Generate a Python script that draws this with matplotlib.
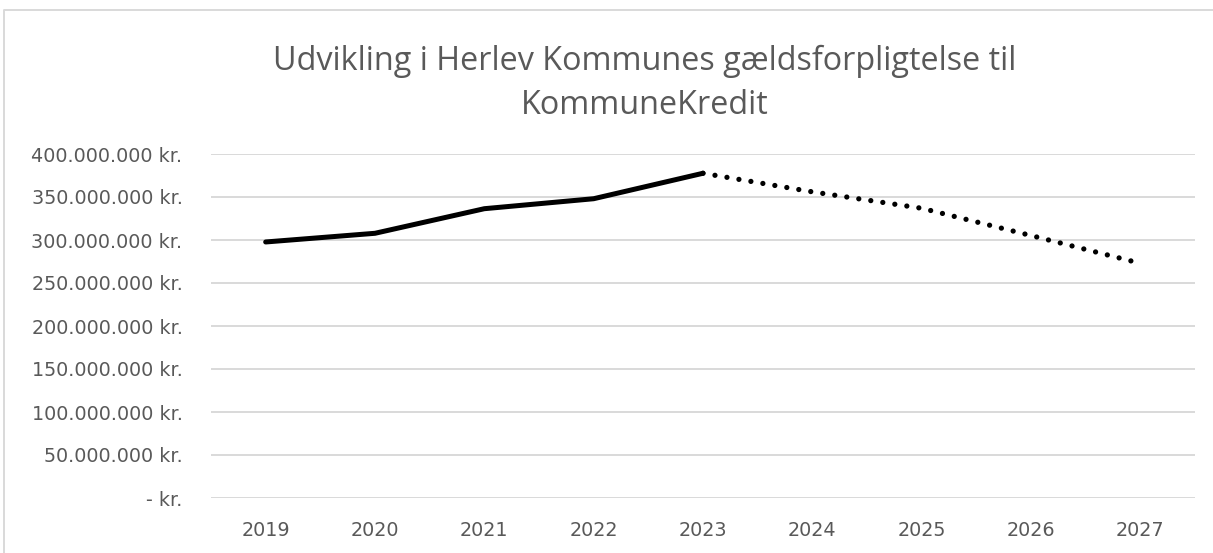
import matplotlib
matplotlib.use("Agg")
import matplotlib.pyplot as plt
from matplotlib import font_manager
from matplotlib.lines import Line2D
import numpy as np

# ---- data ----
years = ["2019", "2020", "2021", "2022", "2023", "2024", "2025", "2026", "2027"]
actual_values = [297.7e6, 307.8e6, 336.4e6, 348.0e6, 377.6e6]            # 2019-2023
forecast_values = [377.6e6, 356.0e6, 336.9e6, 305.2e6, 272.9e6]          # 2023-2027
yticks = [0, 50e6, 100e6, 150e6, 200e6, 250e6, 300e6, 350e6, 400e6]
title_lines = ["Udvikling i Herlev Kommunes gældsforpligtelse til", "KommuneKredit"]

W, H = 1213, 553
DPI = 100
fig = plt.figure(figsize=(W / DPI, H / DPI), dpi=DPI)
fig.patch.set_facecolor("white")

def fy(p):
    return 1 - p / H

def fx(p):
    return p / W

ax = fig.add_axes([fx(211), fy(498), fx(1195) - fx(211), fy(154) - fy(498)])

x_act = np.arange(len(actual_values))
x_fc = np.arange(len(actual_values) - 1, len(actual_values) - 1 + len(forecast_values))

ax.plot(x_fc, forecast_values, color="black", lw=3.8,
        linestyle=(0, (0.001, 2.3)), dash_capstyle="round", solid_capstyle="round", zorder=3)
ax.plot(x_act, actual_values, color="black", lw=3.6,
        solid_capstyle="round", solid_joinstyle="round", zorder=4)

ax.set_xlim(-0.5, len(years) - 0.5)
ax.set_ylim(0, 400e6)
ax.set_yticks(yticks)

def fmt(v):
    if v == 0:
        return "- kr."
    return f"{int(v):,}".replace(",", ".") + " kr."

ax.set_yticklabels([fmt(v) for v in yticks])
ax.set_xticks(range(len(years)))
ax.set_xticklabels(years)

tick_color = "#595959"
ax.tick_params(axis="y", length=0, pad=20.5, labelsize=13.8, labelcolor=tick_color)
ax.tick_params(axis="x", length=0, pad=16.5, labelsize=13.8, labelcolor=tick_color)
for s in ax.spines.values():
    s.set_visible(False)
ax.yaxis.grid(True, color="#d9d9d9", lw=1.4)
ax.set_axisbelow(True)

# chart frame (cropped at right and bottom)
fig.add_artist(Line2D([fx(3.8), fx(3.8), 1.0], [0.0, fy(9.8), fy(9.8)],
                      transform=fig.transFigure, color="#d9d9d9", lw=1.4))

# title font choice
title_family = "DejaVu Sans"
for cand in ["Liberation Sans Narrow", "Open Sans", "Lato"]:
    try:
        font_manager.findfont(font_manager.FontProperties(family=cand), fallback_to_default=False)
        title_family = cand
        break
    except Exception:
        pass

t1 = fig.text(fx(645), fy(70), title_lines[0], ha="center", va="baseline",
              color=tick_color, fontsize=20, family=title_family)
t2 = fig.text(fx(645), fy(114), title_lines[1], ha="center", va="baseline",
              color=tick_color, fontsize=20, family=title_family)
fig.canvas.draw()
r = fig.canvas.get_renderer()
w = t1.get_window_extent(r).width
fs = 20 * 745 / w
t1.set_fontsize(fs)
t2.set_fontsize(fs)

fig.savefig("out.png", dpi=DPI, facecolor="white")
